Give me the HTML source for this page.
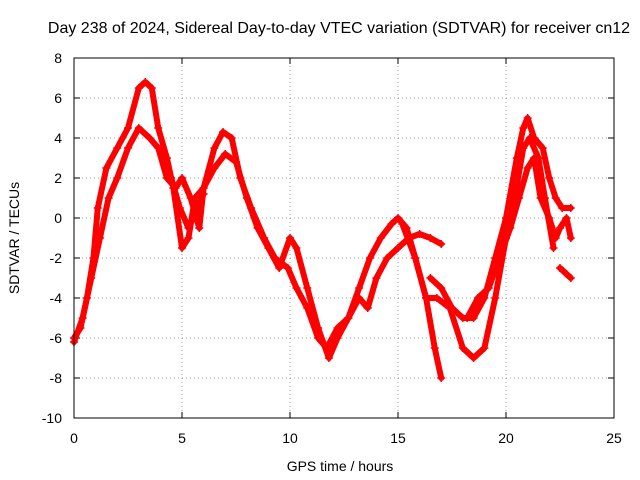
<!DOCTYPE html>
<html><head><meta charset="utf-8"><style>
body{margin:0;background:#fff}
svg{display:block;font-family:"Liberation Sans",sans-serif}
</style></head><body>
<svg id="chart" width="640" height="480" viewBox="0 0 640 480">
<rect width="640" height="480" fill="#fff"/>
<text x="339" y="33" font-size="16" text-anchor="middle">Day 238 of 2024, Sidereal Day-to-day VTEC variation (SDTVAR) for receiver cn12</text>
<g id="grid"></g>
<g id="ticks"></g>
<g id="series"></g>
<rect x="74" y="58" width="540" height="360" fill="none" stroke="#000"/>
<text x="340" y="471" font-size="14" text-anchor="middle">GPS time / hours</text>
<text x="19" y="238" font-size="14" text-anchor="middle" transform="rotate(-90 19 238)">SDTVAR / TECUs</text>
</svg>
<script>
const xTicks=[0,5,10,15,20,25];
const yTicks=[-10,-8,-6,-4,-2,0,2,4,6,8];
const s1h=[0,0.3,0.6,0.9,1.1,1.5,2,2.5,3,3.3,3.6,3.9,4.3,4.6,5,5.3,5.6,6,6.5,6.9,7.3,7.7,8.2,8.8,9.3,9.9,10.3,10.8,11.3,11.7,12.2,12.7,13.2,13.7,14.2,14.7,15,15.4,15.8,16.3,16.7,17];
const s1v=[-6,-5.5,-4,-2,0.5,2.5,3.5,4.5,6.5,6.8,6.5,4.5,3,1.5,-1.5,-1,1,1.5,3.5,4.3,4,2,0.5,-1,-2,-2.5,-3.5,-4.5,-6,-6.5,-5.5,-5,-3.5,-2,-1,-0.3,0,-0.5,-2,-4,-6.5,-8];
const s2h=[0,0.4,0.8,1.2,1.6,2,2.5,3,3.5,3.9,4.3,4.7,5,5.4,5.8,6,6.5,7,7.5,8,8.5,9,9.5,10,10.3,10.8,11.3,11.8,12.2,12.7,13.2,13.6,14,14.5,15,15.5,16,16.5,17];
const s2v=[-6.2,-5,-3,-1,1,2,3.5,4.5,4,3.5,2,1.5,2,1,-0.5,1.5,2.5,3.2,2.8,1,-0.5,-1.5,-2.5,-1,-1.5,-3.5,-5.5,-7,-6,-5,-4,-4.5,-3,-2,-1.5,-1,-0.8,-1,-1.3];
const s3h=[15.2,15.8,16.3,16.8,17.4,18,18.5,19,19.5,20,20.4,20.8,21.1,21.5,21.8,22.2];
const s3v=[-0.3,-2,-4,-4,-4.5,-6.5,-7,-6.5,-4,-1,1,3.5,4,3,1,-1.5];
const s4h=[16.5,17,17.5,18,18.5,19,19.5,20,20.5,20.8,21,21.3,21.7,22,22.3,22.6,23];
const s4v=[-3,-3.5,-4.5,-5,-5,-4,-2,0,3,4.5,5,4,3.5,2,1,0.5,0.5];
const s5h=[18.2,18.7,19.2,19.7,20.2,20.6,21,21.3,21.6,22,22.3,22.5,22.8,23];
const s5v=[-5,-4,-3.5,-2,-0.5,1,2.5,3,1,0,-1,-0.5,0,-1];
const s6h=[22.5,22.8,23];
const s6v=[-2.5,-2.8,-3];
const s7h=[4.5,4.9,5.3,5.7,6];
const s7v=[2,0.5,-0.5,0.5,1.2];
const NS='http://www.w3.org/2000/svg';
function xs(h){return 74+(h/25)*540;}
function ys(v){return 418-((v+10)/18)*360;}
function mk(tag,a,p){const e=document.createElementNS(NS,tag);for(const k in a)e.setAttribute(k,a[k]);p.appendChild(e);return e;}
const grid=document.getElementById('grid'),ticks=document.getElementById('ticks'),ser=document.getElementById('series');
xTicks.forEach(t=>{
 const x=xs(t);
 if(t>0&&t<25){const l=mk('line',{x1:x,y1:58,x2:x,y2:418,stroke:'#a0a0a0','stroke-dasharray':'1,3'},grid);
 
 }
 mk('line',{x1:x,y1:418,x2:x,y2:412,stroke:'#000'},ticks);
 mk('line',{x1:x,y1:58,x2:x,y2:64,stroke:'#000'},ticks);
 const tx=mk('text',{x:x,y:443,'font-size':14,'text-anchor':'middle'},ticks);tx.textContent=t;
 
 
});
yTicks.forEach(t=>{
 const y=ys(t);
 if(t>-10&&t<8){const l=mk('line',{x1:74,y1:y,x2:614,y2:y,stroke:'#a0a0a0','stroke-dasharray':'1,3'},grid);
 
 }
 mk('line',{x1:74,y1:y,x2:80,y2:y,stroke:'#000'},ticks);
 mk('line',{x1:614,y1:y,x2:608,y2:y,stroke:'#000'},ticks);
 const tx=mk('text',{x:62,y:y+5,'font-size':14,'text-anchor':'end'},ticks);tx.textContent=t;
 
 
});
const all=[[s1h,s1v],[s2h,s2v],[s3h,s3v],[s4h,s4v],[s5h,s5v],[s6h,s6v],[s7h,s7v]];
all.forEach((s,i)=>{
 const g=mk('g',{},ser);
 
 
 const pts=s[0].map((h,j)=>xs(h)+','+ys(s[1][j])).join(' ');
 const pl=mk('polyline',{points:pts,fill:'none',stroke:'#ff0000','stroke-width':6,'stroke-linejoin':'round','stroke-linecap':'round'},g);
 
 
 s[0].forEach((h,j)=>{
  const x=xs(h),y=ys(s[1][j]);
  const p=mk('path',{d:`M${x-4},${y}H${x+4}M${x},${y-4}V${y+4}`,stroke:'#ff0000','stroke-width':1.5},g);
  
  
 });
});
</script>
</body></html>
